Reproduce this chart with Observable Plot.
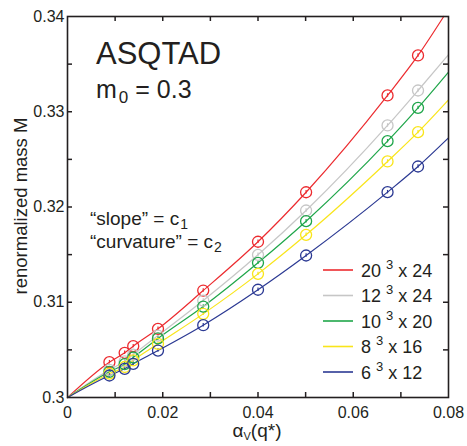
<!DOCTYPE html>
<html>
<head>
<meta charset="utf-8">
<script src="https://cdn.jsdelivr.net/npm/d3@7"></script>
<script src="https://cdn.jsdelivr.net/npm/@observablehq/plot@0.6"></script>
<style>
  html, body { margin: 0; padding: 0; background: white; }
  #wrap { position: relative; width: 467px; height: 446px; }
  #wrap > svg { position: absolute; left: 0; top: 0; }
</style>
</head>
<body>
<div id="wrap"></div>
<script>
// ---- data ----
const xs = [0.0088, 0.0120, 0.0138, 0.0190, 0.0285, 0.0400, 0.0501, 0.0672, 0.0736];
const series = ["20^3 x 24", "12^3 x 24", "10^3 x 20", "8^3 x 16", "6^3 x 12"];
const legendBase = ["20", "12", "10", "8", "6"];
const legendTime = ["24", "24", "20", "16", "12"];
const colors = ["#ec2b2f", "#c6c6c6", "#1fa64a", "#f9e51a", "#2b3993"];
const mRed    = [0.30371, 0.30469, 0.30539, 0.30721, 0.31123, 0.31635, 0.32155, 0.33171, 0.33591];
const mGray   = [0.30290, 0.30380, 0.30450, 0.30650, 0.31018, 0.31498, 0.31963, 0.32856, 0.33223];
const mGreen  = [0.30270, 0.30350, 0.30420, 0.30620, 0.30955, 0.31414, 0.31851, 0.32691, 0.33041];
const mYellow = [0.30250, 0.30320, 0.30390, 0.30564, 0.30878, 0.31298, 0.31708, 0.32478, 0.32786];
const mBlue   = [0.30231, 0.30301, 0.30354, 0.30493, 0.30759, 0.31131, 0.31491, 0.32156, 0.32425];
const errM = 0.00018;
// fit curves: start at (0, 0.3), pass the points, end at the frame
const fitStart = [0, 0.3];
const fitEndX = [0.0790, 0.08, 0.08, 0.08, 0.08];
const fitEndY = [0.34, 0.33598, 0.33416, 0.33125, 0.32726];
// axes
const xTicks = [0, 0.02, 0.04, 0.06, 0.08];
const xTickText = ["0", "0.02", "0.04", "0.06", "0.08"];
const yTicks = [0.30, 0.31, 0.32, 0.33, 0.34];
const yTickText = ["0.3", "0.31", "0.32", "0.33", "0.34"];
const xMarks = [0.01, 0.02, 0.03, 0.04, 0.05, 0.06, 0.07];
const yMarks = [0.305, 0.31, 0.315, 0.32, 0.325, 0.33, 0.335];

const allM = [mRed, mGray, mGreen, mYellow, mBlue];

const points = [];
allM.forEach((arr, s) => arr.forEach((m, i) => points.push({s, x: xs[i], y: m})));
const curves = [];
allM.forEach((arr, s) => {
  curves.push({s, x: fitStart[0], y: fitStart[1]});
  arr.forEach((m, i) => curves.push({s, x: xs[i], y: m}));
  curves.push({s, x: fitEndX[s], y: fitEndY[s]});
});

const W = 467, H = 446, ML = 67, MR = 19, MT = 16, MB = 49;
const IW = W - ML - MR, IH = H - MT - MB;
const TL = 5;
const ink = "#231f20";

const chart = Plot.plot({
  width: W, height: H,
  marginLeft: ML, marginRight: MR, marginTop: MT, marginBottom: MB,
  style: {fontFamily: "'Liberation Sans', Arial, Helvetica, sans-serif", fontSize: "16px", color: ink, background: "white"},
  x: {domain: [0, 0.08]},
  y: {domain: [0.30, 0.34]},
  marks: [
    Plot.axisX(xTicks, {tickSize: 0, tickPadding: 9, tickFormat: (d, i) => xTickText[i], label: null, fontSize: 16}),
    Plot.axisY(yTicks, {tickSize: 0, tickPadding: 3, tickFormat: (d, i) => yTickText[i], label: null, fontSize: 16}),
    Plot.line(curves, {x: "x", y: "y", z: "s", stroke: d => colors[d.s], curve: "monotone-x", strokeWidth: 1.2}),
    Plot.ruleX(points, {x: "x", y1: d => d.y - errM, y2: d => d.y + errM, stroke: d => colors[d.s], strokeWidth: 1.2}),
    Plot.dot(points, {x: "x", y: "y", r: 5.5, stroke: d => colors[d.s], fill: "none", strokeWidth: 1.3}),
    Plot.tickY(yMarks, {y: d => d, insetRight: IW - TL, stroke: ink, strokeWidth: 1.5}),
    Plot.tickY(yMarks, {y: d => d, insetLeft: IW - TL, stroke: ink, strokeWidth: 1.5}),
    Plot.tickX(xMarks, {x: d => d, insetBottom: IH - TL, stroke: ink, strokeWidth: 1.5}),
    Plot.tickX(xMarks, {x: d => d, insetTop: IH - TL, stroke: ink, strokeWidth: 1.5}),
    Plot.frame({stroke: ink, strokeWidth: 1.6})
  ]
});
const wrap = document.getElementById("wrap");
wrap.appendChild(chart);

// overlay with titles, annotations, legend
const ov = d3.select(wrap).append("svg")
  .attr("width", W).attr("height", H)
  .style("font-family", "'Liberation Sans', Arial, Helvetica, sans-serif")
  .style("pointer-events", "none");

ov.append("text").attr("x", 96).attr("y", 64).attr("font-size", 31).attr("fill", ink).text("ASQTAD");
const m0 = ov.append("text").attr("x", 96).attr("y", 98).attr("font-size", 25).attr("fill", ink);
m0.append("tspan").text("m");
m0.append("tspan").attr("font-size", 17).attr("dy", 5).attr("dx", 2).text("0");
m0.append("tspan").attr("dy", -5).text(" = 0.3");

const s1 = ov.append("text").attr("x", 90).attr("y", 225).attr("font-size", 19).attr("fill", ink);
s1.append("tspan").text("\u201Cslope\u201D = c");
s1.append("tspan").attr("font-size", 14).attr("dy", 4).attr("dx", 1).text("1");
const s2 = ov.append("text").attr("x", 90).attr("y", 248).attr("font-size", 19).attr("fill", ink);
s2.append("tspan").text("\u201Ccurvature\u201D = c");
s2.append("tspan").attr("font-size", 14).attr("dy", 4).attr("dx", 1).text("2");

// axis titles
ov.append("text").attr("transform", "translate(27,206) rotate(-90)").attr("text-anchor", "middle")
  .attr("font-size", 18.5).attr("fill", ink).text("renormalized mass M");
const xl = ov.append("text").attr("x", 257).attr("y", 437).attr("text-anchor", "middle").attr("font-size", 19).attr("fill", ink);
xl.append("tspan").text("\u03B1");
xl.append("tspan").attr("font-size", 11).attr("dy", 3).text("V");
xl.append("tspan").attr("dy", -3).text("(q*)");

// legend
const rowY = [270, 295.5, 321, 346.5, 372];
series.forEach((name, i) => {
  ov.append("line").attr("x1", 323).attr("x2", 353).attr("y1", rowY[i]).attr("y2", rowY[i])
    .attr("stroke", colors[i]).attr("stroke-width", 1.6);
  const t = ov.append("text").attr("x", 361).attr("y", rowY[i] + 6.5).attr("font-size", 18).attr("fill", ink);
  t.append("tspan").text(legendBase[i] + " ");
  t.append("tspan").attr("font-size", 13).attr("dy", -8).text("3");
  t.append("tspan").attr("dy", 8).text(" x " + legendTime[i]);
});
</script>
</body>
</html>
